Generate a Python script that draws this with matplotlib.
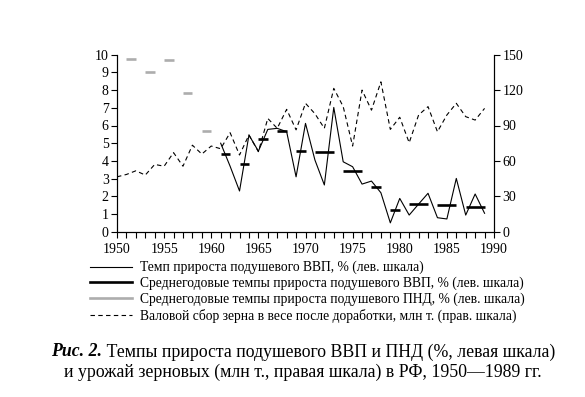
import matplotlib
matplotlib.use("Agg")
import matplotlib.pyplot as plt
from matplotlib.lines import Line2D

plt.rcParams['font.family'] = ['Liberation Serif', 'DejaVu Serif']
plt.rcParams['font.size'] = 9

# Темп прироста подушевого ВВП, % (1961-1989)
gdp_years = list(range(1961, 1990))
gdp_growth = [5.0, 3.7, 2.3, 5.46, 4.55, 5.78, 5.84, 5.65, 3.1, 6.12,
              4.05, 2.64, 7.02, 3.95, 3.67, 2.69, 2.86, 2.2, 0.5, 1.88,
              0.94, 1.56, 2.17, 0.79, 0.72, 3.01, 0.94, 2.13, 1.04]

# Среднегодовые темпы прироста ВВП: начало, конец, значение
gdp_avg_start = [1961, 1963, 1965, 1967, 1969, 1971, 1974, 1977, 1979, 1981, 1984, 1987]
gdp_avg_end = [1962, 1964, 1966, 1968, 1970, 1973, 1976, 1978, 1980, 1983, 1986, 1989]
gdp_avg_val = [4.4, 3.85, 5.22, 5.7, 4.58, 4.52, 3.43, 2.52, 1.22, 1.54, 1.51, 1.38]

# Среднегодовые темпы прироста ПНД
nmp_avg_start = [1951, 1953, 1955, 1957, 1959]
nmp_avg_end = [1952, 1954, 1956, 1958, 1960]
nmp_avg_val = [9.74, 9.04, 9.68, 7.82, 5.71]

# Валовой сбор зерна, млн т.
grain_years = list(range(1950, 1990))
grain = [46.5, 48.5, 51.6, 48.0, 57.0, 55.5, 67.0, 55.5, 73.3, 65.8,
         72.6, 70.3, 83.9, 65.0, 82.0, 67.8, 96.0, 87.6, 103.7, 86.3,
         108.8, 100.0, 87.6, 121.5, 106.0, 72.6, 120.0, 103.0, 127.0, 86.7,
         97.0, 75.4, 98.9, 106.0, 84.7, 98.9, 108.8, 97.5, 94.6, 104.5]

fig = plt.figure(figsize=(5.85, 3.97), dpi=100)
ax = fig.add_axes([117 / 585, 1 - 231.7 / 397, (494 - 117) / 585, (231.7 - 54.7) / 397])
ax2 = ax.twinx()

ax.plot(gdp_years, gdp_growth, color='black', lw=0.8, zorder=3)
ax.hlines(gdp_avg_val, gdp_avg_start, gdp_avg_end, color='black', lw=1.9, zorder=4)
ax.hlines(nmp_avg_val, nmp_avg_start, nmp_avg_end, color='#adadad', lw=1.9, zorder=4)
ax2.plot(grain_years, grain, color='black', lw=0.8, dashes=(4, 3))

ax.set_xlim(1950, 1990)
ax.set_ylim(0, 10)
ax2.set_ylim(0, 150)
ax.set_xticks(range(1950, 1991, 5))
ax.set_xticks(range(1950, 1991), minor=True)
ax.set_yticks(range(0, 11))
ax2.set_yticks(range(0, 151, 30))

for a in (ax, ax2):
    a.spines['top'].set_visible(False)
    for s in a.spines.values():
        s.set_linewidth(0.8)
    a.tick_params(direction='out', length=4, width=0.8, labelsize=10, pad=2)
    a.tick_params(which='minor', direction='out', length=4, width=0.8)
ax.tick_params(axis='x', pad=4)

handles = [
    Line2D([], [], color='black', lw=0.8),
    Line2D([], [], color='black', lw=1.9),
    Line2D([], [], color='#adadad', lw=1.9),
    Line2D([], [], color='black', lw=0.8, dashes=(4, 3)),
]
labels = [
    'Темп прироста подушевого ВВП, % (лев. шкала)',
    'Среднегодовые темпы прироста подушевого ВВП, % (лев. шкала)',
    'Среднегодовые темпы прироста подушевого ПНД, % (лев. шкала)',
    'Валовой сбор зерна в весе после доработки, млн т. (прав. шкала)',
]
fig.legend(handles, labels, loc='upper left', bbox_to_anchor=(90 / 585, 1 - 261 / 397),
           frameon=False, fontsize=9.8, handlelength=3.1, handletextpad=0.55,
           labelspacing=0.17, borderpad=0, borderaxespad=0)

# подпись к рисунку
fig.canvas.draw()
r = fig.canvas.get_renderer()
cap_fs = 12.8
cx = 303 / 585
y1 = 1 - 352 / 397
t1 = fig.text(0, y1, 'Рис. 2.', fontsize=cap_fs, fontweight='bold', fontstyle='italic', va='center')
t2 = fig.text(0, y1, ' Темпы прироста подушевого ВВП и ПНД (%, левая шкала)', fontsize=cap_fs, va='center')
w1 = t1.get_window_extent(r).width / fig.bbox.width
w2 = t2.get_window_extent(r).width / fig.bbox.width
x0 = cx - (w1 + w2) / 2
t1.set_x(x0)
t2.set_x(x0 + w1)
fig.text(cx, 1 - 372 / 397, 'и урожай зерновых (млн т., правая шкала) в РФ, 1950—1989 гг.',
         fontsize=cap_fs, ha='center', va='center')

fig.savefig('out.png', dpi=100)
